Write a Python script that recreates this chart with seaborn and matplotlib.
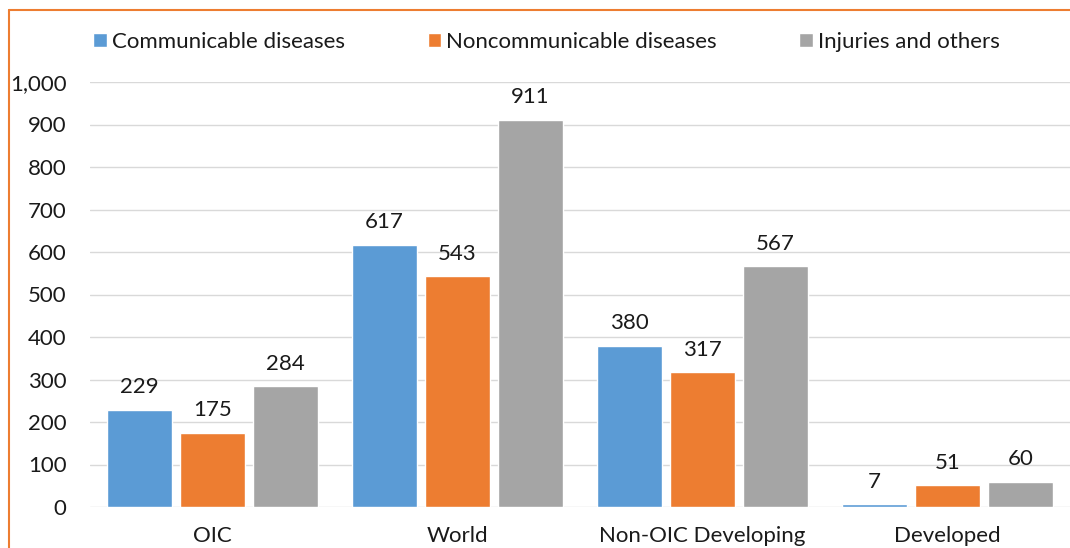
import pandas as pd
import matplotlib.pyplot as plt
import seaborn as sns
from matplotlib.lines import Line2D
from matplotlib.ticker import FuncFormatter

# Chart data
groups = ['OIC', 'World', 'Non-OIC Developing', 'Developed']
series = ['Communicable diseases', 'Noncommunicable diseases', 'Injuries and others']
communicable = [229, 617, 380, 7]
noncommunicable = [175, 543, 317, 51]
injuries = [284, 911, 567, 60]
y_ticks = [0, 100, 200, 300, 400, 500, 600, 700, 800, 900, 1000]

colors = ['#5B9BD5', '#ED7D31', '#A5A5A5']

# Long format table for seaborn
rows = []
for name, vals in zip(series, [communicable, noncommunicable, injuries]):
    for g, v in zip(groups, vals):
        rows.append({'group': g, 'series': name, 'value': v})
df = pd.DataFrame(rows)

sns.set_style('white')
plt.rcParams['font.family'] = ['Lato', 'DejaVu Sans']
text_color = '#1a1a1a'
fs = 16

fig = plt.figure(figsize=(10.7, 5.48), dpi=100)
ax = fig.add_axes([90 / 1070, 41 / 548, 980 / 1070, 425 / 548])

sns.barplot(data=df, x='group', y='value', hue='series', order=groups,
            hue_order=series, palette=colors, width=0.894, gap=0.1,
            saturation=1, ax=ax, legend=True)

for c in ax.containers:
    ax.bar_label(c, fmt='%d', padding=9, fontsize=fs, color=text_color)

ax.set_ylim(0, 1000)
ax.set_xlim(-0.5, 3.5)
ax.set_yticks(y_ticks)
ax.yaxis.set_major_formatter(FuncFormatter(lambda v, p: f'{int(v):,}'))
ax.grid(axis='y', color='#D9D9D9', linewidth=1)
ax.set_axisbelow(True)
for s in ax.spines.values():
    s.set_visible(False)
ax.set_xlabel('')
ax.set_ylabel('')
ax.tick_params(axis='x', length=0, pad=14, labelsize=fs, labelcolor=text_color)
ax.tick_params(axis='y', length=0, pad=17, labelsize=fs, labelcolor=text_color)

# Legend at top
handles, labels = ax.get_legend_handles_labels()
ax.legend_.remove()
fig.legend(handles, labels, loc='center', bbox_to_anchor=(0.511, 0.923), ncol=3,
           frameon=False, fontsize=fs, handlelength=0.6, handleheight=0.6,
           handletextpad=0.25, columnspacing=3.7, labelcolor=text_color)

# Orange chart frame (cropped on right and bottom)
fig.add_artist(Line2D([9 / 1070, 9 / 1070], [0, 1 - 10 / 548], color='#ED7D31', lw=1.5))
fig.add_artist(Line2D([9 / 1070, 1], [1 - 10 / 548, 1 - 10 / 548], color='#ED7D31', lw=1.5))

fig.savefig('out.png', dpi=100)
